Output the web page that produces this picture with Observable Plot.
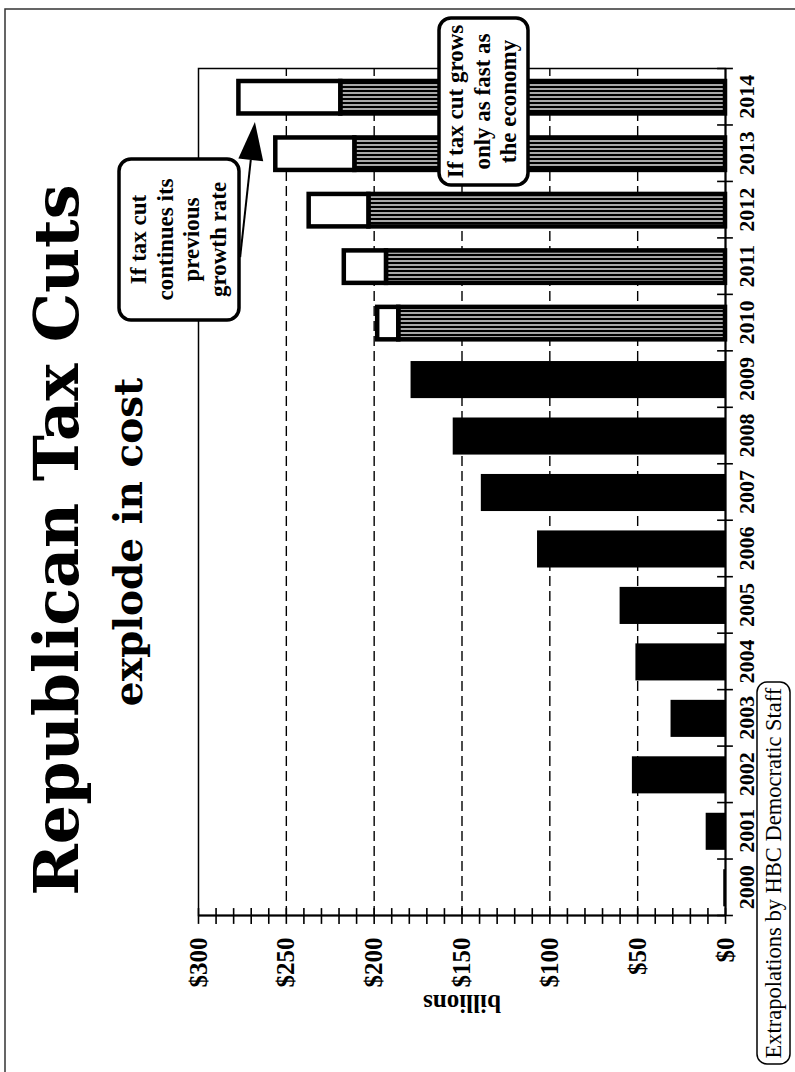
<!DOCTYPE html>
<html>
<head>
<meta charset="utf-8">
<script src="https://cdn.jsdelivr.net/npm/d3@7"></script>
<script src="https://cdn.jsdelivr.net/npm/@observablehq/plot@0.6"></script>
<style>
  html, body { margin: 0; padding: 0; background: #fff; width: 795px; height: 1072px; overflow: hidden; }
  /* The slide is laid out landscape and turned a quarter turn counter-clockwise */
  #page {
    position: absolute; left: 0; top: 0;
    width: 1072px; height: 795px;
    transform-origin: 0 0;
    transform: translate(0, 1072px) rotate(-90deg);
    background: #fff;
  }
  #chart { position: absolute; left: 0; top: 0; }
  #overlay { position: absolute; left: 0; top: 0; pointer-events: none; }
</style>
</head>
<body>
<div id="page">
  <div id="chart"></div>
  <svg id="overlay" width="1072" height="795"></svg>
</div>
<script>
// Annual cost of the tax cuts, billions of dollars
const years = [2000, 2001, 2002, 2003, 2004, 2005, 2006, 2007, 2008, 2009, 2010, 2011, 2012, 2013, 2014];
const actualYears = [2000, 2001, 2002, 2003, 2004, 2005, 2006, 2007, 2008, 2009];
const actualCost = [1, 11, 53, 31, 51, 60, 107, 139, 155, 179];
const projYears = [2010, 2011, 2012, 2013, 2014];
const economyCost = [186, 193, 203, 211, 219];   // grows only as fast as the economy
const trendCost = [198, 217, 237, 256, 277];     // continues its previous growth rate
const valueTicks = [0, 50, 100, 150, 200, 250, 300];
const gridValues = [50, 100, 150, 200, 250];
const minorTicks = [0, 10, 20, 30, 40, 50, 60, 70, 80, 90, 100, 110, 120, 130, 140, 150,
  160, 170, 180, 190, 200, 210, 220, 230, 240, 250, 260, 270, 280, 290, 300];

const noteTrend = ["If tax cut", "continues its", "previous", "growth rate"];
const noteEconomy = ["If tax cut grows", "only as fast as", "the economy"];
const titleText = "Republican Tax Cuts";
const subtitleText = "explode in cost";
const creditText = "Extrapolations by HBC Democratic Staff";
// arrow from the "previous growth rate" note to the 2014 bar (year, billions)
const arrowFrom = {year: 2011.17, cost: 276};
const arrowTo = {year: 2013.56, cost: 267.6};

const actual = actualYears.map((year, i) => ({year, cost: actualCost[i]}));
const projected = projYears.map((year, i) => ({year, economy: economyCost[i], trend: trendCost[i]}));
const boundaries = years.map(y => y - 0.5).concat([years[years.length - 1] + 0.5]);
const x0 = years[0] - 0.5;

const serif = "'Liberation Serif', 'Times New Roman', serif";

const chart = Plot.plot({
  width: 1072,
  height: 795,
  marginLeft: 156,
  marginRight: 69,
  marginTop: 198,
  marginBottom: 70,
  x: {domain: [years[0] - 0.5, years[years.length - 1] + 0.5]},
  y: {domain: [0, 300]},
  style: {fontFamily: serif, background: "transparent", color: "#000", overflow: "visible"},
  marks: [
    Plot.ruleY(gridValues, {stroke: "#000", strokeWidth: 1.4, strokeDasharray: "10,5"}),
    Plot.rect(actual, {
      x1: d => d.year - 0.5, x2: d => d.year + 0.5, y1: 0, y2: "cost",
      fill: "#000", insetLeft: 9.7, insetRight: 9.7
    }),
    Plot.rect(projected, {
      x1: d => d.year - 0.5, x2: d => d.year + 0.5, y1: 0, y2: "economy",
      fill: "url(#hatch)", stroke: "#000", strokeWidth: 4.5, insetLeft: 12, insetRight: 12
    }),
    Plot.rect(projected, {
      x1: d => d.year - 0.5, x2: d => d.year + 0.5, y1: "economy", y2: "trend",
      fill: "#fff", stroke: "#000", strokeWidth: 4.5, insetLeft: 12, insetRight: 12
    }),
    Plot.frame({stroke: "#000", strokeWidth: 1.5}),
    Plot.ruleY([0], {stroke: "#000", strokeWidth: 2}),
    Plot.ruleX([x0], {stroke: "#000", strokeWidth: 2}),
    // year separators crossing the baseline
    Plot.ruleX(boundaries, {y1: -4.5, y2: 4.5, stroke: "#000", strokeWidth: 1.6}),
    // value ticks crossing the value axis
    Plot.ruleY(minorTicks, {x1: x0 - 0.14, x2: x0 + 0.14, stroke: "#000", strokeWidth: 1.6}),
    Plot.axisX(years, {
      tickSize: 0, tickPadding: 13, fontSize: 22, fontWeight: "bold", fontFamily: serif,
      tickFormat: d => String(d), label: null
    }),
    Plot.axisY(valueTicks, {
      tickSize: 0, tickPadding: 22, fontSize: 25, fontWeight: "bold", fontFamily: serif,
      tickFormat: d => "$" + d, label: null
    }),
    Plot.text(["billions"], {
      frameAnchor: "left", dx: -87, rotate: -90, text: d => d, textAnchor: "middle",
      fontSize: 25, fontWeight: "bold", fontFamily: serif
    })
  ]
});

document.getElementById("chart").appendChild(chart);

// hatch pattern for the economy-growth bars
const svg = d3.select(chart);
const pat = svg.insert("defs", ":first-child")
  .append("pattern")
  .attr("id", "hatch")
  .attr("patternUnits", "userSpaceOnUse")
  .attr("width", 4).attr("height", 4);
pat.append("rect").attr("width", 4).attr("height", 4).attr("fill", "#a8a8a8");
pat.append("rect").attr("width", 2).attr("height", 4).attr("fill", "#000");

// arrow with a solid head
const sx = chart.scale("x"), sy = chart.scale("y");
const ax0 = sx.apply(arrowFrom.year), ay0 = sy.apply(arrowFrom.cost);
const ax1 = sx.apply(arrowTo.year), ay1 = sy.apply(arrowTo.cost);
const ang = Math.atan2(ay1 - ay0, ax1 - ax0);
const headLen = 38, headHalf = 12.5;
const bx = ax1 - headLen * Math.cos(ang), by = ay1 - headLen * Math.sin(ang);
const px = -Math.sin(ang) * headHalf, py = Math.cos(ang) * headHalf;
svg.append("line")
  .attr("x1", ax0).attr("y1", ay0).attr("x2", bx).attr("y2", by)
  .attr("stroke", "#000").attr("stroke-width", 2);
svg.append("path")
  .attr("d", `M${ax1},${ay1}L${bx + px},${by + py}L${bx - px},${by - py}Z`)
  .attr("fill", "#000");

// titles, notes and credit
const ov = d3.select("#overlay");
ov.append("path").attr("d", "M-10,5H1063V810").attr("fill", "none")
  .attr("stroke", "#333").attr("stroke-width", 1.5);

ov.append("text").attr("x", 532).attr("y", 78).attr("text-anchor", "middle")
  .attr("font-family", "'DejaVu Serif', serif").attr("font-weight", "bold")
  .attr("font-size", 62).text(titleText);
ov.append("text").attr("x", 530).attr("y", 142).attr("text-anchor", "middle")
  .attr("font-family", "'DejaVu Serif', serif").attr("font-weight", "bold")
  .attr("font-size", 39).text(subtitleText);

function note(lines, x, y, w, h, baseline0) {
  ov.append("rect").attr("x", x).attr("y", y).attr("width", w).attr("height", h)
    .attr("rx", 12).attr("fill", "#fff").attr("stroke", "#000").attr("stroke-width", 3.5);
  lines.forEach((t, i) => {
    ov.append("text").attr("x", x + w / 2).attr("y", baseline0 + i * 26.5)
      .attr("text-anchor", "middle").attr("font-family", serif).attr("font-weight", "bold")
      .attr("font-size", 23).text(t);
  });
}
note(noteTrend, 752, 119, 161, 120, 146);
note(noteEconomy, 887, 439, 167, 89, 463);

ov.append("rect").attr("x", 8).attr("y", 757).attr("width", 382).attr("height", 33)
  .attr("rx", 10).attr("fill", "#fff").attr("stroke", "#000").attr("stroke-width", 1.5);
ov.append("text").attr("x", 199).attr("y", 781).attr("text-anchor", "middle")
  .attr("font-family", serif).attr("font-size", 22.5).text(creditText);
</script>
</body>
</html>
